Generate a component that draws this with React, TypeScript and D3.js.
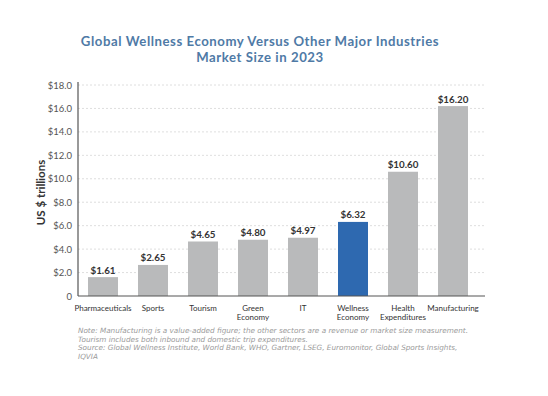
import React, { useEffect, useRef } from "react";
import * as d3 from "d3";

const categories = [
  ["Pharmaceuticals"],
  ["Sports"],
  ["Tourism"],
  ["Green", "Economy"],
  ["IT"],
  ["Wellness", "Economy"],
  ["Health", "Expenditures"],
  ["Manufacturing"],
];
const values = [1.61, 2.65, 4.65, 4.8, 4.97, 6.32, 10.6, 16.2];
const highlight = 5;
const yTicks = [0, 2, 4, 6, 8, 10, 12, 14, 16, 18];
const notes = [
  "Note: Manufacturing is a value-added figure; the other sectors are a revenue or market size measurement.",
  "Tourism includes both inbound and domestic trip expenditures.",
  "Source: Global Wellness Institute, World Bank, WHO, Gartner, LSEG, Euromonitor, Global Sports Insights,",
  "IQVIA",
];

const App: React.FC = () => {
  const svgRef = useRef<SVGSVGElement | null>(null);

  useEffect(() => {
    if (!svgRef.current) return;
    const svg = d3.select(svgRef.current);
    svg.selectAll("*").remove();

    const left = 78, right = 478, top = 85, bottom = 296;
    const font = "Lato, 'Open Sans', sans-serif";

    const x = d3.scaleBand<number>()
      .domain(values.map((_, i) => i))
      .range([left, right])
      .paddingInner(0.4)
      .paddingOuter(0.2);
    const y = d3.scaleLinear().domain([0, 18]).range([bottom, top]);

    // title
    const title = svg.append("text")
      .attr("text-anchor", "middle")
      .style("font-family", font)
      .style("font-weight", "bold")
      .style("font-size", "13.2px")
      .style("letter-spacing", "0.55px")
      .attr("fill", "#4f7aa6");
    title.append("tspan").attr("x", 260).attr("y", 46).text("Global Wellness Economy Versus Other Major Industries");
    title.append("tspan").attr("x", 260).attr("y", 62).text("Market Size in 2023");

    // grid
    svg.append("g")
      .selectAll("line")
      .data(yTicks.filter(d => d > 0))
      .enter()
      .append("line")
      .attr("x1", left)
      .attr("x2", 485)
      .attr("y1", d => y(d))
      .attr("y2", d => y(d))
      .attr("stroke", "#d6d6d6")
      .attr("stroke-width", 0.8)
      .attr("stroke-dasharray", "2,2");

    // y tick labels
    svg.append("g")
      .selectAll("text")
      .data(yTicks)
      .enter()
      .append("text")
      .attr("x", 72)
      .attr("y", d => y(d) + 3.5)
      .attr("text-anchor", "end")
      .style("font-family", font)
      .style("font-size", "9.5px")
      .attr("fill", "#555")
      .text(d => (d === 0 ? "0" : "$" + d.toFixed(1)));

    // y label
    svg.append("text")
      .attr("transform", `translate(45,${(top + bottom) / 2 + 2}) rotate(-90)`)
      .attr("text-anchor", "middle")
      .style("font-family", font)
      .style("font-weight", "bold")
      .style("font-size", "11.5px")
      .attr("fill", "#333")
      .text("US $ trillions");

    // bars
    svg.append("g")
      .selectAll("rect")
      .data(values)
      .enter()
      .append("rect")
      .attr("x", (_, i) => x(i)!)
      .attr("y", d => y(d))
      .attr("width", x.bandwidth())
      .attr("height", d => bottom - y(d))
      .attr("fill", (_, i) => (i === highlight ? "#2e69b0" : "#b9babb"));

    // value labels
    svg.append("g")
      .selectAll("text")
      .data(values)
      .enter()
      .append("text")
      .attr("x", (_, i) => x(i)! + x.bandwidth() / 2)
      .attr("y", d => y(d) - 3.5)
      .attr("text-anchor", "middle")
      .style("font-family", font)
      .style("font-weight", "bold")
      .style("font-size", "9.8px")
      .attr("fill", "#333")
      .text(d => "$" + d.toFixed(2));

    // axes
    svg.append("line")
      .attr("x1", left).attr("x2", left)
      .attr("y1", top - 3).attr("y2", bottom)
      .attr("stroke", "#555").attr("stroke-width", 1.2);
    svg.append("line")
      .attr("x1", left).attr("x2", 485)
      .attr("y1", bottom).attr("y2", bottom)
      .attr("stroke", "#555").attr("stroke-width", 1.2);

    // category labels
    const cat = svg.append("g")
      .selectAll("text")
      .data(categories)
      .enter()
      .append("text")
      .attr("text-anchor", "middle")
      .style("font-family", font)
      .style("font-size", "8px")
      .attr("fill", "#333");
    cat.each(function (lines, i) {
      const t = d3.select(this);
      lines.forEach((l, j) => {
        t.append("tspan")
          .attr("x", x(i)! + x.bandwidth() / 2)
          .attr("y", 311 + j * 9)
          .text(l);
      });
    });

    // notes
    svg.append("g")
      .selectAll("text")
      .data(notes)
      .enter()
      .append("text")
      .attr("x", 78)
      .attr("y", (_, i) => 333 + i * 8.7)
      .style("font-family", "'DejaVu Sans', sans-serif")
      .style("font-style", "italic")
      .style("font-size", "7.25px")
      .attr("fill", "#9a9a9a")
      .text(d => d);
  }, []);

  return (
    <svg
      ref={svgRef}
      width={548}
      height={396}
      style={{ position: "absolute", left: 0, top: 0, display: "block" }}
    ></svg>
  );
};

export default App;
